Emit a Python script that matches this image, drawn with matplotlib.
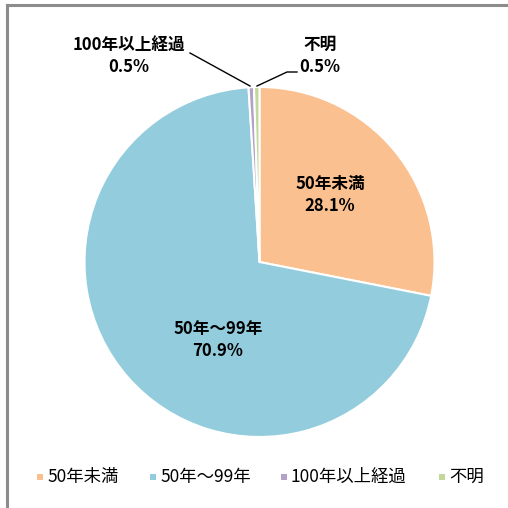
import matplotlib
matplotlib.use("Agg")
import matplotlib.pyplot as plt
from matplotlib.patches import Rectangle
from matplotlib.lines import Line2D

plt.rcParams['font.family'] = ['Noto Sans CJK JP', 'DejaVu Sans']

categories = ['50年未満', '50年～99年', '100年以上経過', '不明']
shares = [28.1, 70.9, 0.5, 0.5]
colours = ['#FAC090', '#93CDDD', '#B3A2C7', '#C3D69B']

W = H = 508
fig = plt.figure(figsize=(W / 100, H / 100), dpi=100)
ax = fig.add_axes([0, 0, 1, 1])

cx, cy, r = 259.5, H - 262, 175
wedges, _ = ax.pie(shares, colors=colours, startangle=90, counterclock=False,
                   center=(cx, cy), radius=r,
                   wedgeprops=dict(edgecolor='white', linewidth=1.5))
ax.set_xlim(0, W)
ax.set_ylim(0, H)
ax.set_aspect('equal')
ax.axis('off')

# chart frame (top and left edges visible)
ax.add_line(Line2D([7, W], [H - 5, H - 5], color='#8c8c8c', lw=2.2))
ax.add_line(Line2D([7, 7], [0, H - 5], color='#8c8c8c', lw=2.2))

lab_kw = dict(ha='center', va='center', fontsize=12, fontweight='bold',
              linespacing=1.35)
ax.text(330, H - 195, f'{categories[0]}\n{shares[0]}%', **lab_kw)
ax.text(218, H - 340, f'{categories[1]}\n{shares[1]}%', **lab_kw)
ax.text(129, H - 56, f'{categories[2]}\n{shares[2]}%', **lab_kw)
ax.text(320, H - 56, f'{categories[3]}\n{shares[3]}%', **lab_kw)

# leader lines for the small slices
ax.plot([190, 250], [H - 53, H - 86], color='black', lw=1)
ax.plot([297, 287, 257], [H - 72, H - 72, H - 86], color='black', lw=1)

# legend
leg_x = [40, 153, 284, 442]
for x, name, col in zip(leg_x, categories, colours):
    ax.add_patch(Rectangle((x - 3, H - 480), 6, 6, color=col, lw=0))
    ax.text(x + 7, H - 477, name, ha='left', va='center', fontsize=12.5)

fig.savefig('out.png', dpi=100)
